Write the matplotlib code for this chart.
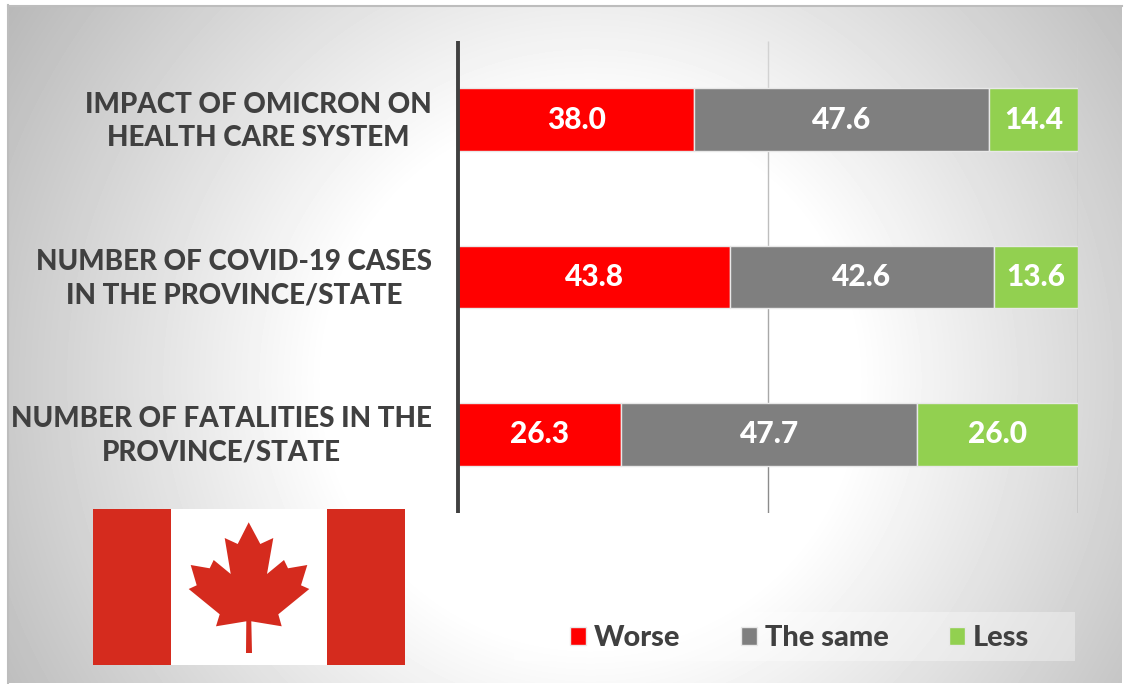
"""
Canada: perceived impact of Omicron, stacked horizontal bars on a slide background
"""

import numpy as np
import matplotlib
matplotlib.use('Agg')
import matplotlib.pyplot as plt
from matplotlib.patches import Polygon, Rectangle
from matplotlib.transforms import ScaledTranslation

W, H = 1124, 684

categories = ['IMPACT OF OMICRON ON\nHEALTH CARE SYSTEM',
              'NUMBER OF COVID-19 CASES\nIN THE PROVINCE/STATE',
              'NUMBER OF FATALITIES IN THE\nPROVINCE/STATE']
worse = [38.0, 43.8, 26.3]
same = [47.6, 42.6, 47.7]
less = [14.4, 13.6, 26.0]
series_names = ['Worse', 'The same', 'Less']
series_colors = ['#FF0000', '#7F7F7F', '#92D050']
x_ticks = [50, 100]

TEXT = '#404040'
FLAG_RED = '#D52B1E'

# maple leaf outline, pixels of the slide
leaf_x = [248.7, 260.3, 273.3, 267, 284, 288, 307.3, 301, 309.3, 278.3, 281.7,
          251.3, 252, 246, 246.3, 216, 219.7, 188.7, 196.7, 190.7, 209.7, 213.7,
          230.7, 224.7, 237.7]
leaf_y = [522.3, 544, 538, 574, 560, 568.3, 565, 585.3, 589, 614.3, 626.3,
          621.3, 653, 653, 621.3, 626.3, 614.3, 589, 585.3, 565, 568.3, 560,
          574, 538, 544]

plt.rcParams['font.family'] = ['Lato', 'DejaVu Sans']
fig = plt.figure(figsize=(W / 100, H / 100), dpi=100, facecolor='white')

# slide layer in pixel coordinates
bg = fig.add_axes([0, 0, 1, 1])
bg.axis('off')

yy, xx = np.mgrid[5:683, 8:1122]
dist = np.hypot(xx - 590, yy - 380)
shade = np.clip(1.0 - 0.00065 * np.clip(dist - 265, 0, None), 0, 1)
bg.imshow(shade, cmap='gray', vmin=0, vmax=1, extent=(8, 1122, 683, 5),
          aspect='auto', interpolation='bilinear')
bg.set_xlim(0, W)
bg.set_ylim(H, 0)
bg.plot([8, 1122], [5.5, 5.5], color='#BDBDBD', lw=1.5)
bg.plot([8, 8], [5, 683], color='#BDBDBD', lw=1.5)

# flag
bg.add_patch(Rectangle((93, 509), 312, 156, color='white', lw=0))
bg.add_patch(Rectangle((93, 509), 78, 156, color=FLAG_RED, lw=0))
bg.add_patch(Rectangle((327, 509), 78, 156, color=FLAG_RED, lw=0))
bg.add_patch(Polygon(np.column_stack([leaf_x, leaf_y]), closed=True, color=FLAG_RED, lw=0))

# legend strip
bg.add_patch(Rectangle((514, 612), 561, 49, color='white', alpha=0.35, lw=0))

# bar chart
ax = fig.add_axes([458.3 / W, 1 - 513 / H, 620 / W, 472 / H])
ax.patch.set_visible(False)
y_pos = np.arange(len(categories))
left = np.zeros(len(categories))
for values, name, color in zip([worse, same, less], series_names, series_colors):
    bars = ax.barh(y_pos, values, left=left, height=0.4, color=color,
                   edgecolor='#E8E8E8', linewidth=1, label=name, zorder=3)
    for bar, v in zip(bars, values):
        ax.text(bar.get_x() + bar.get_width() / 2, bar.get_y() + bar.get_height() / 2,
                f'{v:.1f}', ha='center', va='center', color='white',
                fontsize=21.5, fontweight='black', zorder=4)
    left += np.array(values)

ax.set_xlim(0, 100)
ax.set_ylim(2.5, -0.5)
ax.set_xticks([])
ax.tick_params(length=0)

# gridlines get darker towards the bottom of the plot
gaps = [(-0.5, -0.2), (0.2, 0.8), (1.2, 1.8), (2.2, 2.5)]
gap_colors = ['#D2D2D2', '#BEBEBE', '#A8A8A8', '#8C8C8C']
for (y0, y1), c in zip(gaps, gap_colors):
    ax.vlines(x_ticks, y0, y1, color=c, linewidth=1, zorder=1)

for name in ['top', 'right', 'bottom']:
    ax.spines[name].set_visible(False)
ax.spines['left'].set_color(TEXT)
ax.spines['left'].set_linewidth(2.8)
ax.spines['left'].set_capstyle('butt')
ax.spines['left'].set_zorder(5)
ax.set_yticks(y_pos)
ax.set_yticklabels(categories, fontsize=20, fontweight='black', color=TEXT,
                   ha='center', linespacing=1.35)

# tick labels are centred on their own block, right edge near x=432
fig.canvas.draw()
rend = fig.canvas.get_renderer()
nudge = ScaledTranslation(0, 4.5 / 100, fig.dpi_scale_trans)
for lab in ax.get_yticklabels():
    bb = lab.get_window_extent(rend)
    lab.set_x((432 - bb.width / 2 - 458.3) / 620)
    lab.set_transform(ax.get_yaxis_transform() + nudge)

handles, labels = ax.get_legend_handles_labels()
fig.legend(handles, labels, loc='center', bbox_to_anchor=(799.5 / W, 1 - 638 / H), ncol=3,
           frameon=False, prop={'size': 20.8, 'weight': 'black'}, labelcolor=TEXT,
           handlelength=0.56, handleheight=0.56, handletextpad=0.27, columnspacing=2.1)

fig.savefig('out.png', dpi=100, facecolor='white')
